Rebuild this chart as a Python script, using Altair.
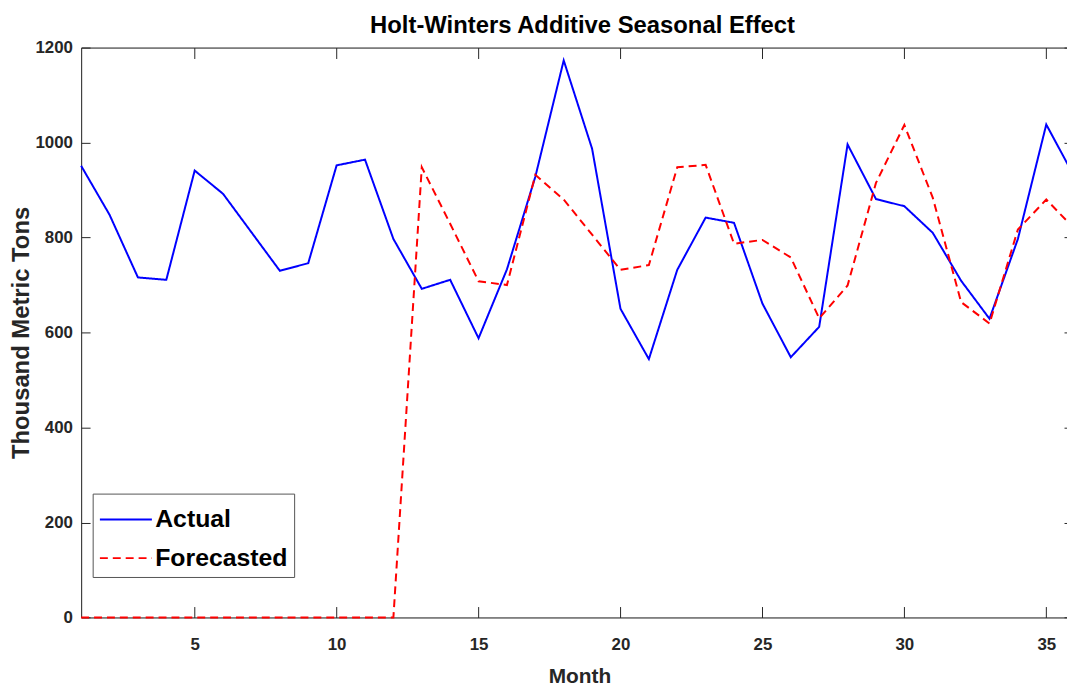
import altair as alt
import pandas as pd

# ---------------- data ----------------
months = [1, 2, 3, 4, 5, 6, 7, 8, 9, 10, 11, 12, 13, 14, 15, 16, 17, 18,
          19, 20, 21, 22, 23, 24, 25, 26, 27, 28, 29, 30, 31, 32, 33, 34, 35, 36]
actual = [951, 848, 716, 711, 941, 892, 811, 730, 746, 952, 964, 797,
          692, 711, 588, 733, 928, 1173, 987, 650, 544, 732, 842, 831,
          661, 548, 612, 996, 881, 866, 810, 709, 629, 797, 1038, 927]
forecast = [0, 0, 0, 0, 0, 0, 0, 0, 0, 0, 0, 0,
            948, 829, 708, 700, 932, 880, 806, 732, 742, 948, 953, 787,
            795, 758, 630, 699, 915, 1037, 884, 664, 619, 817, 880, 818]
series_names = ["Actual", "Forecasted"]
series_colors = ["#0000ff", "#ff0000"]
x_ticks = [5, 10, 15, 20, 25, 30, 35]
y_ticks = [0, 200, 400, 600, 800, 1000, 1200]
chart_title = "Holt-Winters Additive Seasonal Effect"

df = pd.DataFrame({
    "Month": months + months,
    "Value": actual + forecast,
    "Series": [series_names[0]] * len(months) + [series_names[1]] * len(months),
})

FONT = "Liberation Sans, Arial, sans-serif"
AX = "#262626"
XMAX = 35.73

x_scale = alt.Scale(domain=[1, XMAX], nice=False, zero=False)
y_scale = alt.Scale(domain=[0, 1200], nice=False, zero=False)

legend = alt.Legend(
    title=None, orient="none", legendX=11.6, legendY=449.4,
    symbolType="M-1,0H1.8", symbolSize=1400, symbolStrokeWidth=2,
    labelFont=FONT, labelFontSize=25, labelFontWeight="bold", labelColor="#000000",
    labelOffset=17, labelLimit=0, rowPadding=6, padding=6,
    strokeColor="#555555", fillColor="#ffffff", cornerRadius=0,
)
color = alt.Color("Series:N", scale=alt.Scale(domain=series_names, range=series_colors), legend=legend)
dash = alt.StrokeDash("Series:N", scale=alt.Scale(domain=series_names, range=[[1, 0], [8, 5]]), legend=legend)

base = alt.Chart(df)

# Layer A: actual line, axis domains + labels + titles
xa = alt.Axis(orient="bottom", values=x_ticks, format="d", ticks=False, tickSize=0, domain=True,
              domainColor=AX, labels=True, labelPadding=19, labelFont=FONT, labelFontSize=17,
              labelFontWeight="bold", labelColor=AX, grid=False, title="Month", titleFont=FONT,
              titleFontSize=21, titleFontWeight="bold", titleColor=AX, titleX=502, titleY=49,
              titleAlign="center", titleBaseline="top")
ya = alt.Axis(orient="left", values=y_ticks, format="d", ticks=False, tickSize=0, domain=True,
              domainColor=AX, labels=True, labelPadding=8.7, labelFont=FONT, labelFontSize=17,
              labelFontWeight="bold", labelColor=AX, grid=False, title="Thousand Metric Tons",
              titleFont=FONT, titleFontSize=24, titleFontWeight="bold", titleColor=AX,
              titleX=-60.5, titleY=287, titleAngle=270, titleAlign="center", titleBaseline="middle")
layer_a = base.transform_filter(alt.datum.Series == series_names[0]).mark_line(strokeWidth=2).encode(
    x=alt.X("Month:Q", scale=x_scale, axis=xa),
    y=alt.Y("Value:Q", scale=y_scale, axis=ya),
    color=color, strokeDash=dash,
)

# Layer B: forecast line, inward ticks bottom/left
xb = alt.Axis(orient="bottom", values=x_ticks, ticks=True, tickSize=11, offset=-11, tickColor=AX,
              domain=False, labels=False, grid=False, title=None)
yb = alt.Axis(orient="left", values=y_ticks, ticks=True, tickSize=9, offset=-9, tickColor=AX,
              domain=False, labels=False, grid=False, title=None)
layer_b = base.transform_filter(alt.datum.Series == series_names[1]).mark_line(strokeWidth=2).encode(
    x=alt.X("Month:Q", scale=x_scale, axis=xb),
    y=alt.Y("Value:Q", scale=y_scale, axis=yb),
    color=color, strokeDash=dash,
)

# Layer C: invisible, inward ticks top/right
xc = alt.Axis(orient="top", values=x_ticks, ticks=True, tickSize=11, offset=-11, tickColor=AX,
              domain=False, labels=False, grid=False, title=None)
yc = alt.Axis(orient="right", values=y_ticks, ticks=True, tickSize=3, offset=-3, tickColor=AX,
              domain=False, labels=False, grid=False, title=None)
layer_c = base.transform_filter(alt.datum.Series == series_names[0]).mark_line(opacity=0).encode(
    x=alt.X("Month:Q", scale=x_scale, axis=xc),
    y=alt.Y("Value:Q", scale=y_scale, axis=yc),
)

# Layer D: invisible, top frame line carrying the chart title
xd = alt.Axis(orient="top", values=x_ticks, ticks=False, tickSize=0, domain=True, domainColor=AX,
              labels=False, grid=False, title=chart_title, titleFont=FONT, titleFontSize=24,
              titleFontWeight="bold", titleColor="#000000", titleX=504.7, titleY=-15,
              titleAlign="center", titleBaseline="alphabetic")
layer_d = base.transform_filter(alt.datum.Series == series_names[0]).mark_line(opacity=0).encode(
    x=alt.X("Month:Q", scale=x_scale, axis=xd),
    y=alt.Y("Value:Q", scale=y_scale, axis=None),
)

chart = alt.layer(layer_a, layer_b, layer_c, layer_d).resolve_axis(
    x="independent", y="independent"
).properties(
    width=993.3, height=574.2,
    autosize=alt.AutoSizeParams(type="none"),
    padding={"left": 73.7, "top": 37.3, "right": 0, "bottom": 70},
).configure_view(stroke=None).configure(background="#ffffff")

chart.save("out.html", embed_options={"renderer": "svg", "actions": False})
